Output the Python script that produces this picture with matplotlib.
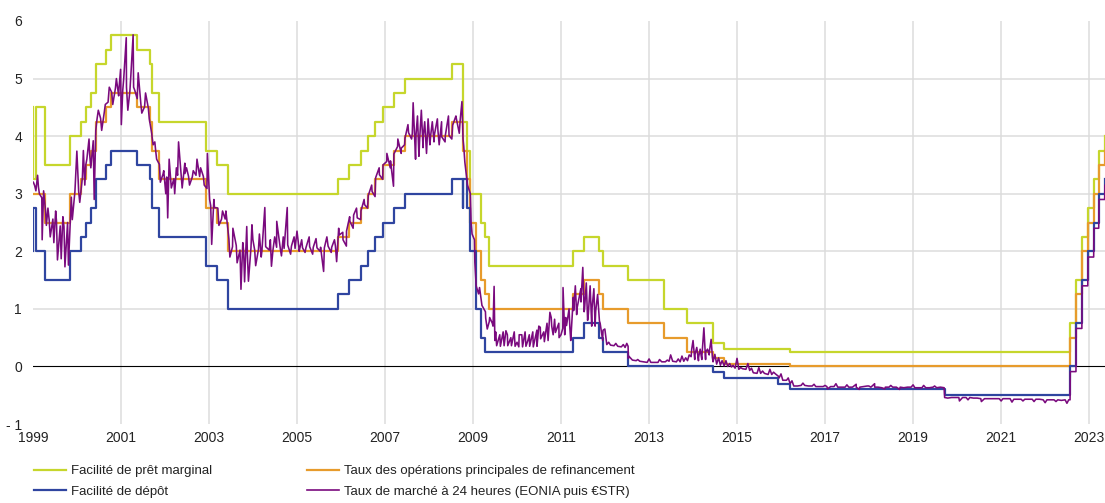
import matplotlib
matplotlib.use("Agg")
import matplotlib.pyplot as plt
import matplotlib.dates as mdates
from matplotlib.lines import Line2D
import pandas as pd

plt.rcParams['font.family'] = ['Liberation Sans', 'DejaVu Sans']

# taux directeurs de la BCE (date de changement, niveau en %)
mlf_dates = ["1999-01-01", "1999-01-04", "1999-01-22", "1999-04-09", "1999-11-05",
             "2000-02-04", "2000-03-17", "2000-04-28", "2000-06-09", "2000-09-01", "2000-10-06",
             "2001-05-11", "2001-08-31", "2001-09-18", "2001-11-09", "2002-12-06", "2003-03-07",
             "2003-06-06", "2005-12-06", "2006-03-08", "2006-06-15", "2006-08-09", "2006-10-11",
             "2006-12-13", "2007-03-14", "2007-06-13", "2008-07-09", "2008-10-08", "2008-10-09",
             "2008-11-12", "2008-12-10", "2009-03-11", "2009-04-08", "2009-05-13", "2011-04-13",
             "2011-07-13", "2011-11-09", "2011-12-14", "2012-07-11", "2013-05-08", "2013-11-13",
             "2014-06-11", "2014-09-10", "2016-03-16", "2022-07-27", "2022-09-14", "2022-11-02",
             "2022-12-21", "2023-02-08", "2023-03-22", "2023-05-10"]
mlf = [4.50, 3.25, 4.50, 3.50, 4.00,
       4.25, 4.50, 4.75, 5.25, 5.50, 5.75,
       5.50, 5.25, 4.75, 4.25, 3.75, 3.50,
       3.00, 3.25, 3.50, 3.75, 4.00, 4.25,
       4.50, 4.75, 5.00, 5.25, 4.75, 4.25,
       3.75, 3.00, 2.50, 2.25, 1.75, 2.00,
       2.25, 2.00, 1.75, 1.50, 1.00, 0.75,
       0.40, 0.30, 0.25, 0.75, 1.50, 2.25,
       2.75, 3.25, 3.75, 4.00]

mro_dates = ["1999-01-01", "1999-04-09", "1999-11-05", "2000-02-04", "2000-03-17", "2000-04-28",
             "2000-06-09", "2000-09-01", "2000-10-06", "2001-05-11", "2001-08-31", "2001-09-18",
             "2001-11-09", "2002-12-06", "2003-03-07", "2003-06-06", "2005-12-06", "2006-03-08",
             "2006-06-15", "2006-08-09", "2006-10-11", "2006-12-13", "2007-03-14", "2007-06-13",
             "2008-07-09", "2008-10-08", "2008-11-12", "2008-12-10", "2009-01-21", "2009-03-11",
             "2009-04-08", "2009-05-13", "2011-04-13", "2011-07-13", "2011-11-09", "2011-12-14",
             "2012-07-11", "2013-05-08", "2013-11-13", "2014-06-11", "2014-09-10", "2016-03-16",
             "2022-07-27", "2022-09-14", "2022-11-02", "2022-12-21", "2023-02-08", "2023-03-22",
             "2023-05-10"]
mro = [3.00, 2.50, 3.00, 3.25, 3.50, 3.75,
       4.25, 4.50, 4.75, 4.50, 4.25, 3.75,
       3.25, 2.75, 2.50, 2.00, 2.25, 2.50,
       2.75, 3.00, 3.25, 3.50, 3.75, 4.00,
       4.25, 3.75, 3.25, 2.50, 2.00, 1.50,
       1.25, 1.00, 1.25, 1.50, 1.25, 1.00,
       0.75, 0.50, 0.25, 0.15, 0.05, 0.00,
       0.50, 1.25, 2.00, 2.50, 3.00, 3.50,
       3.75]

dep_dates = ["1999-01-01", "1999-01-04", "1999-01-22", "1999-04-09", "1999-11-05",
             "2000-02-04", "2000-03-17", "2000-04-28", "2000-06-09", "2000-09-01", "2000-10-06",
             "2001-05-11", "2001-08-31", "2001-09-18", "2001-11-09", "2002-12-06", "2003-03-07",
             "2003-06-06", "2005-12-06", "2006-03-08", "2006-06-15", "2006-08-09", "2006-10-11",
             "2006-12-13", "2007-03-14", "2007-06-13", "2008-07-09", "2008-10-08", "2008-10-09",
             "2008-11-12", "2008-12-10", "2009-01-21", "2009-03-11", "2009-04-08", "2011-04-13",
             "2011-07-13", "2011-11-09", "2011-12-14", "2012-07-11", "2014-06-11", "2014-09-10",
             "2015-12-09", "2016-03-16", "2019-09-18", "2022-07-27", "2022-09-14", "2022-11-02",
             "2022-12-21", "2023-02-08", "2023-03-22", "2023-05-10"]
dep = [2.00, 2.75, 2.00, 1.50, 2.00,
       2.25, 2.50, 2.75, 3.25, 3.50, 3.75,
       3.50, 3.25, 2.75, 2.25, 1.75, 1.50,
       1.00, 1.25, 1.50, 1.75, 2.00, 2.25,
       2.50, 2.75, 3.00, 3.25, 2.75, 3.25,
       2.75, 2.00, 1.00, 0.50, 0.25, 0.50,
       0.75, 0.50, 0.25, 0.00, -0.10, -0.20,
       -0.30, -0.40, -0.50, 0.00, 0.75, 1.50,
       2.00, 2.50, 3.00, 3.25]

# taux au jour le jour : niveau mensuel (mi-mois), janv. 1999 -> mai 2023
eonia_monthly = [
    3.14, 3.12, 2.93, 2.71, 2.55, 2.56, 2.52, 2.44, 2.43, 2.50, 2.94, 3.04,
    3.04, 3.28, 3.51, 3.69, 3.92, 4.29, 4.31, 4.42, 4.59, 4.76, 4.83, 4.83,
    4.80, 4.85, 4.78, 4.85, 4.65, 4.54, 4.51, 4.49, 3.99, 3.75, 3.51, 3.34,
    3.29, 3.28, 3.26, 3.32, 3.31, 3.35, 3.30, 3.29, 3.32, 3.30, 3.30, 3.09,
    2.79, 2.76, 2.75, 2.56, 2.56, 2.21, 2.08, 2.10, 2.02, 2.01, 1.97, 2.06,
    2.02, 2.03, 2.01, 2.08, 2.02, 2.03, 2.07, 2.04, 2.05, 2.11, 2.09, 2.05,
    2.08, 2.06, 2.06, 2.08, 2.07, 2.06, 2.07, 2.06, 2.09, 2.07, 2.09, 2.28,
    2.33, 2.35, 2.52, 2.63, 2.58, 2.70, 2.81, 2.97, 3.04, 3.28, 3.33, 3.50,
    3.56, 3.57, 3.69, 3.82, 3.79, 3.96, 4.06, 4.05, 4.03, 3.94, 4.02, 3.88,
    4.02, 4.03, 4.09, 3.99, 4.01, 4.01, 4.19, 4.30, 4.27, 3.82, 3.15, 2.49,
    1.81, 1.26, 1.06, 0.84, 0.78, 0.70, 0.36, 0.35, 0.36, 0.36, 0.36, 0.35,
    0.34, 0.34, 0.35, 0.35, 0.34, 0.35, 0.48, 0.43, 0.45, 0.70, 0.59, 0.50,
    0.66, 0.71, 0.66, 0.97, 1.03, 1.12, 1.01, 0.91, 1.01, 0.96, 0.79, 0.63,
    0.38, 0.37, 0.36, 0.35, 0.34, 0.33, 0.18, 0.11, 0.10, 0.09, 0.08, 0.07,
    0.07, 0.07, 0.07, 0.08, 0.08, 0.09, 0.09, 0.08, 0.08, 0.09, 0.10, 0.17,
    0.20, 0.16, 0.19, 0.25, 0.25, 0.08, 0.04, 0.02, 0.01, 0.00, -0.01, -0.03,
    -0.05, -0.04, -0.05, -0.07, -0.11, -0.12, -0.12, -0.12, -0.14, -0.14, -0.13, -0.20,
    -0.24, -0.24, -0.29, -0.34, -0.34, -0.33, -0.33, -0.34, -0.34, -0.35, -0.35, -0.35,
    -0.35, -0.35, -0.35, -0.36, -0.36, -0.36, -0.36, -0.36, -0.36, -0.36, -0.35, -0.34,
    -0.36, -0.36, -0.36, -0.37, -0.36, -0.36, -0.36, -0.36, -0.36, -0.37, -0.36, -0.36,
    -0.37, -0.37, -0.37, -0.37, -0.37, -0.36, -0.37, -0.36, -0.37, -0.55, -0.54, -0.54,
    -0.54, -0.54, -0.54, -0.54, -0.55, -0.55, -0.56, -0.56, -0.56, -0.56, -0.56, -0.56,
    -0.56, -0.56, -0.56, -0.57, -0.57, -0.57, -0.57, -0.57, -0.57, -0.57, -0.57, -0.58,
    -0.58, -0.58, -0.58, -0.58, -0.59, -0.58, -0.58, -0.09, 0.66, 0.66, 1.40, 1.40,
    1.90, 2.40, 2.40, 2.90, 3.15]

# pics journaliers et changements de niveau
eonia_extra = [
    ("1999-01-04", 3.20), ("1999-01-25", 3.05), ("1999-02-08", 3.32), ("1999-02-23", 3.00),
    ("1999-03-18", 2.20), ("1999-03-30", 3.05), ("1999-04-22", 2.45), ("1999-05-05", 2.75),
    ("1999-05-24", 2.25), ("1999-06-14", 2.55), ("1999-06-23", 2.15), ("1999-07-08", 2.70),
    ("1999-07-23", 1.85), ("1999-08-23", 1.87), ("1999-09-06", 2.60), ("1999-09-23", 1.73),
    ("1999-10-22", 1.76), ("1999-11-23", 2.55), ("1999-12-22", 3.35), ("1999-12-31", 3.74),
    ("2000-01-24", 2.85), ("2000-02-23", 3.75), ("2000-03-06", 3.15), ("2000-03-23", 3.60),
    ("2000-04-10", 3.95), ("2000-04-25", 3.45), ("2000-05-23", 2.90), ("2000-06-05", 4.10),
    ("2000-06-26", 4.45), ("2000-07-24", 4.10), ("2000-08-23", 4.55), ("2000-09-25", 4.85),
    ("2000-10-24", 4.55), ("2000-11-23", 5.00), ("2000-12-12", 4.70), ("2000-12-28", 5.16),
    ("2001-01-03", 4.20), ("2001-01-23", 5.00), ("2001-02-13", 5.71), ("2001-02-26", 4.45),
    ("2001-03-23", 5.05), ("2001-04-11", 5.76), ("2001-04-24", 4.80), ("2001-05-23", 5.10),
    ("2001-06-22", 4.40), ("2001-07-23", 4.75), ("2001-08-23", 4.30), ("2001-09-12", 4.05),
    ("2001-09-24", 3.85), ("2001-10-08", 3.90), ("2001-10-23", 3.60), ("2001-11-23", 3.20),
    ("2001-12-21", 3.40),
    ("2002-01-07", 3.00), ("2002-01-23", 2.58), ("2002-02-04", 3.60), ("2002-02-22", 3.10),
    ("2002-03-22", 3.00), ("2002-04-05", 3.45), ("2002-04-23", 3.90), ("2002-05-23", 3.10),
    ("2002-06-14", 3.53), ("2002-06-28", 3.45), ("2002-07-23", 3.15), ("2002-08-23", 3.40),
    ("2002-09-23", 3.60), ("2002-10-23", 3.45), ("2002-11-22", 3.15), ("2002-12-18", 3.70),
    ("2003-01-06", 2.90), ("2003-01-23", 2.12), ("2003-02-10", 2.90), ("2003-03-24", 2.45),
    ("2003-04-23", 2.70), ("2003-05-21", 2.70), ("2003-06-23", 1.90), ("2003-07-18", 2.40),
    ("2003-08-22", 1.80), ("2003-09-23", 1.34), ("2003-10-08", 2.15), ("2003-10-23", 1.47),
    ("2003-11-10", 2.43), ("2003-11-24", 1.48), ("2003-12-23", 2.46), ("2003-12-31", 2.20),
    ("2004-01-23", 1.75), ("2004-02-23", 2.30), ("2004-03-09", 1.90), ("2004-04-08", 2.76),
    ("2004-05-24", 2.20), ("2004-06-02", 1.74), ("2004-06-29", 2.25), ("2004-07-16", 2.52),
    ("2004-08-24", 1.92), ("2004-09-08", 2.25), ("2004-10-11", 2.76), ("2004-11-08", 1.95),
    ("2004-12-07", 2.25), ("2004-12-31", 2.35),
    ("2005-01-18", 2.00), ("2005-02-08", 2.20), ("2005-03-08", 1.98), ("2005-04-11", 2.25),
    ("2005-05-10", 1.95), ("2005-06-07", 2.22), ("2005-07-11", 2.00), ("2005-08-09", 1.65),
    ("2005-09-05", 2.25), ("2005-10-11", 1.98), ("2005-11-07", 2.20), ("2005-11-25", 1.82),
    ("2005-12-12", 2.40),
    ("2006-01-17", 2.20), ("2006-02-14", 2.09), ("2006-03-13", 2.60), ("2006-04-11", 2.40),
    ("2006-05-09", 2.75), ("2006-06-13", 2.55), ("2006-07-11", 2.90), ("2006-08-08", 2.75),
    ("2006-09-12", 3.15), ("2006-10-10", 2.95), ("2006-11-13", 3.45), ("2006-12-12", 3.25),
    ("2007-01-16", 3.70), ("2007-02-13", 3.45), ("2007-03-12", 3.13), ("2007-04-17", 3.95),
    ("2007-05-15", 3.70), ("2007-06-12", 3.85), ("2007-07-10", 4.20), ("2007-08-09", 3.95),
    ("2007-08-22", 4.58), ("2007-09-11", 3.60), ("2007-09-27", 4.35), ("2007-10-09", 3.65),
    ("2007-10-29", 4.45), ("2007-11-12", 3.80), ("2007-11-26", 4.25), ("2007-12-11", 3.70),
    ("2007-12-24", 4.30),
    ("2008-01-08", 3.85), ("2008-01-28", 4.25), ("2008-02-11", 3.90), ("2008-03-10", 4.30),
    ("2008-03-25", 3.85), ("2008-04-14", 4.25), ("2008-05-13", 3.90), ("2008-06-10", 4.35),
    ("2008-07-08", 3.95), ("2008-08-11", 4.35), ("2008-09-08", 4.05), ("2008-09-30", 4.60),
    ("2008-10-09", 3.95), ("2008-10-24", 3.55), ("2008-11-10", 3.25), ("2008-12-09", 3.00),
    ("2008-12-23", 2.30),
    ("2009-01-12", 2.20), ("2009-01-26", 1.40), ("2009-02-23", 1.37), ("2009-03-09", 1.15),
    ("2009-04-13", 0.95), ("2009-04-28", 0.65), ("2009-05-18", 0.85), ("2009-06-09", 0.75),
    ("2009-06-24", 1.39), ("2009-06-30", 0.45), ("2009-07-07", 0.60), ("2009-08-10", 0.55),
    ("2009-09-07", 0.60), ("2009-09-30", 0.62), ("2009-10-12", 0.55), ("2009-11-10", 0.50),
    ("2009-12-08", 0.60), ("2009-12-31", 0.42),
    ("2010-01-18", 0.55), ("2010-02-09", 0.55), ("2010-03-08", 0.60), ("2010-03-31", 0.45),
    ("2010-04-12", 0.55), ("2010-05-11", 0.60), ("2010-06-14", 0.63), ("2010-06-30", 0.70),
    ("2010-07-12", 0.68), ("2010-08-10", 0.60), ("2010-09-06", 0.75), ("2010-09-30", 0.94),
    ("2010-10-11", 0.85), ("2010-10-27", 0.55), ("2010-11-08", 0.82), ("2010-12-13", 0.75),
    ("2010-12-31", 0.55),
    ("2011-01-17", 1.37), ("2011-01-31", 0.55), ("2011-02-08", 0.85), ("2011-03-08", 1.00),
    ("2011-03-22", 0.45), ("2011-04-12", 1.20), ("2011-04-29", 1.40), ("2011-05-10", 0.90),
    ("2011-06-14", 1.35), ("2011-06-30", 1.72), ("2011-07-11", 0.95), ("2011-07-29", 1.45),
    ("2011-08-09", 0.80), ("2011-08-30", 1.40), ("2011-09-12", 0.70), ("2011-09-30", 1.35),
    ("2011-10-10", 0.70), ("2011-10-31", 1.25), ("2011-11-21", 0.75), ("2011-12-12", 0.45),
    ("2011-12-30", 0.65),
    ("2012-01-31", 0.42), ("2012-03-30", 0.40), ("2012-05-31", 0.38), ("2012-06-29", 0.40),
    ("2012-07-10", 0.35), ("2012-07-12", 0.14), ("2012-09-28", 0.12), ("2012-12-31", 0.13),
    ("2013-03-28", 0.12), ("2013-05-31", 0.11), ("2013-06-28", 0.20), ("2013-08-30", 0.13),
    ("2013-09-30", 0.18), ("2013-10-31", 0.15), ("2013-11-29", 0.20), ("2013-12-20", 0.30),
    ("2013-12-31", 0.45),
    ("2014-01-14", 0.12), ("2014-01-31", 0.33), ("2014-02-14", 0.10), ("2014-02-28", 0.30),
    ("2014-03-14", 0.12), ("2014-03-31", 0.67), ("2014-04-14", 0.12), ("2014-04-30", 0.30),
    ("2014-05-14", 0.20), ("2014-05-30", 0.47), ("2014-06-10", 0.15), ("2014-06-30", 0.21),
    ("2014-07-31", 0.15), ("2014-08-29", 0.10), ("2014-09-30", 0.10), ("2014-10-31", 0.05),
    ("2014-11-28", 0.02), ("2014-12-31", 0.14),
    ("2015-01-30", -0.02), ("2015-03-31", 0.05), ("2015-04-30", -0.03), ("2015-06-30", -0.02),
    ("2015-07-31", -0.08), ("2015-09-30", -0.05), ("2015-10-30", -0.10), ("2015-12-09", -0.17),
    ("2015-12-31", -0.13),
    ("2016-02-29", -0.20), ("2016-03-16", -0.30), ("2016-03-31", -0.25), ("2016-06-30", -0.29),
    ("2016-09-30", -0.31), ("2016-12-30", -0.33),
    ("2017-01-20", -0.39), ("2017-03-31", -0.30), ("2017-06-30", -0.32), ("2017-09-15", -0.31),
    ("2017-10-10", -0.40), ("2017-12-29", -0.34),
    ("2018-02-15", -0.30), ("2018-05-10", -0.39), ("2018-06-29", -0.33), ("2018-09-10", -0.40),
    ("2018-12-31", -0.32), ("2019-03-29", -0.33), ("2019-06-28", -0.34), ("2019-09-19", -0.54),
    ("2020-01-20", -0.60), ("2020-03-31", -0.58), ("2020-07-20", -0.61), ("2020-12-31", -0.60),
    ("2021-03-31", -0.62), ("2021-06-30", -0.60), ("2021-09-30", -0.61), ("2021-12-31", -0.63),
    ("2022-03-31", -0.61), ("2022-06-30", -0.64),
    ("2022-07-26", -0.58), ("2022-07-28", -0.09), ("2022-09-13", -0.09), ("2022-11-01", 0.66),
    ("2022-11-03", 1.40), ("2022-12-20", 1.40), ("2022-12-22", 1.90), ("2023-02-07", 1.90),
    ("2023-02-09", 2.40), ("2023-03-21", 2.40), ("2023-03-23", 2.90), ("2023-05-09", 2.90),
    ("2023-05-11", 3.15),
]

end_date = "2023-05-15"
labels = ["Facilité de prêt marginal", "Facilité de dépôt",
          "Taux des opérations principales de refinancement",
          "Taux de marché à 24 heures (EONIA puis €STR)"]
c_mlf, c_dep, c_mro, c_eon = "#c6d62c", "#2f45a0", "#e79b2c", "#7a0a7e"

def steps(dates, vals):
    d = pd.to_datetime(dates + [end_date])
    return d, vals + [vals[-1]]

months = pd.date_range("1999-01-01", periods=len(eonia_monthly), freq="MS") + pd.Timedelta(days=14)
eonia = pd.concat([
    pd.Series(eonia_monthly, index=months),
    pd.Series([v for _, v in eonia_extra], index=pd.to_datetime([d for d, _ in eonia_extra])),
]).sort_index()

fig = plt.figure(figsize=(11.05, 5.03), dpi=100)
ax = fig.add_axes([33 / 1105, 1 - 424 / 503, 1 - 33 / 1105, 403 / 503])

for y in range(1, 6):
    ax.axhline(y, color="#dcdcdc", lw=1.1, zorder=0)
for yr in range(2001, 2024, 2):
    ax.axvline(pd.Timestamp(f"{yr}-01-01"), color="#dcdcdc", lw=1.1, zorder=0)
ax.axhline(0, color="black", lw=0.8, zorder=1)

d, v = steps(mlf_dates, mlf)
ax.step(d, v, where="post", color=c_mlf, lw=1.6, zorder=2)
d, v = steps(mro_dates, mro)
ax.step(d, v, where="post", color=c_mro, lw=1.6, zorder=2)
d, v = steps(dep_dates, dep)
ax.step(d, v, where="post", color=c_dep, lw=1.6, zorder=3)
ax.plot(eonia.index, eonia.values, color=c_eon, lw=1.15, zorder=4)

ax.set_xlim(pd.Timestamp("1999-01-01"), pd.Timestamp("2023-05-12"))
ax.set_ylim(-1, 6)
ax.set_yticks(range(-1, 7))
ax.set_yticklabels(["- 1"] + [str(i) for i in range(0, 7)])
ax.set_xticks([pd.Timestamp(f"{yr}-01-01") for yr in range(1999, 2024, 2)])
ax.xaxis.set_major_formatter(mdates.DateFormatter("%Y"))
ax.tick_params(axis="both", length=0, labelsize=10, colors="#222222")
ax.tick_params(axis="y", pad=8)
ax.tick_params(axis="x", pad=5)
for s in ax.spines.values():
    s.set_visible(False)

h1 = [Line2D([], [], color=c_mlf, lw=1.6), Line2D([], [], color=c_dep, lw=1.6)]
h2 = [Line2D([], [], color=c_mro, lw=1.6), Line2D([], [], color=c_eon, lw=1.2)]
kw = dict(loc="upper left", frameon=False, fontsize=9.5, handlelength=2.4,
          handletextpad=0.4, labelspacing=0.65, borderpad=0, borderaxespad=0)
leg1 = fig.legend(h1, labels[:2], bbox_to_anchor=(34 / 1105, 1 - 465 / 503), **kw)
leg2 = fig.legend(h2, labels[2:], bbox_to_anchor=(307 / 1105, 1 - 465 / 503), **kw)
for leg in (leg1, leg2):
    for t in leg.get_texts():
        t.set_color("#222222")

fig.savefig("out.png", dpi=100)
